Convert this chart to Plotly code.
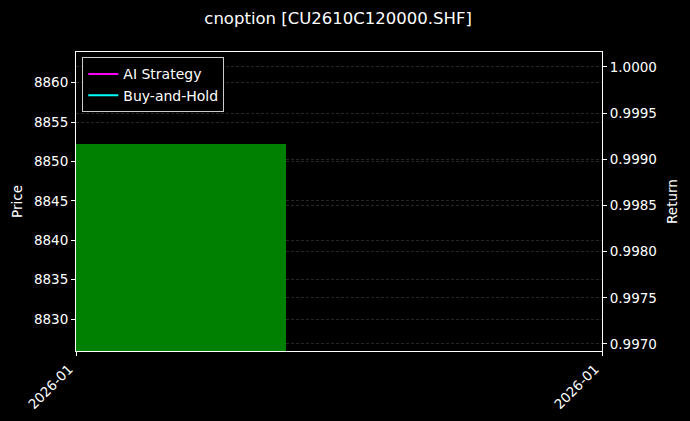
import pandas as pd
import plotly.graph_objects as go

# data
dates = ["2026-01-01"]
close_price = [8852.2]
ai_strategy = [1.0]
buy_hold = [1.0]
tick_labels = ["2026-01", "2026-01"]

d0 = pd.Timestamp(dates[0])
day_ms = 86400000
x_left = d0 - pd.Timedelta(days=0.4)
x_right = d0 + pd.Timedelta(days=1.6)

font = "DejaVu Sans"
grid = "rgba(255,255,255,0.15)"

fig = go.Figure()

# price bar (green candle body)
fig.add_trace(go.Bar(
    x=dates,
    y=close_price,
    width=[0.8 * day_ms],
    marker_color="#008000",
    marker_line_width=0,
    showlegend=False,
    yaxis="y",
))

fig.add_trace(go.Scatter(
    x=dates, y=ai_strategy, mode="lines", name="AI Strategy",
    line=dict(color="#ff00ff", width=2), yaxis="y2",
))
fig.add_trace(go.Scatter(
    x=dates, y=buy_hold, mode="lines", name="Buy-and-Hold",
    line=dict(color="#00ffff", width=2), yaxis="y2",
))

fig.update_layout(
    width=690, height=421,
    margin=dict(l=76, r=88, t=52, b=70),
    paper_bgcolor="black",
    plot_bgcolor="black",
    font=dict(family=font, color="white", size=13.5),
    title=dict(text="cnoption [CU2610C120000.SHF]", x=0.49, xanchor="center",
               yref="container", y=1 - 18 / 421, yanchor="middle",
               pad=dict(t=0, b=0), font=dict(size=16.5, color="white")),
    bargap=0,
    xaxis=dict(
        type="date",
        range=[x_left, x_right],
        tickvals=[x_left, x_right],
        ticktext=tick_labels,
        tickangle=-45,
        ticklabelshift=-7,
        ticks="outside", ticklen=4, tickcolor="white",
        showgrid=False, zeroline=False, automargin=False,
        showline=True, linecolor="white", linewidth=1, mirror=True,
    ),
    yaxis=dict(
        title=dict(text="Price", standoff=8, font=dict(size=13.5)),
        range=[8825.95, 8863.9],
        dtick=5, tick0=8830,
        ticks="outside", ticklen=4, tickcolor="white",
        showgrid=True, gridcolor=grid, gridwidth=0.5, griddash="3px,2px",
        zeroline=False, automargin=False,
        showline=True, linecolor="white", linewidth=1,
    ),
    yaxis2=dict(
        title=dict(text="Return", standoff=11, font=dict(size=13.5)),
        overlaying="y", side="right",
        range=[0.996924, 1.000162],
        dtick=0.0005, tick0=0.997, tickformat=".4f",
        ticks="outside", ticklen=4, tickcolor="white",
        showgrid=True, gridcolor=grid, gridwidth=0.5, griddash="3px,2px",
        zeroline=False, automargin=False,
        showline=True, linecolor="white", linewidth=1,
    ),
    legend=dict(
        x=0.012, y=0.982, xanchor="left", yanchor="top",
        bgcolor="black", bordercolor="#cccccc", borderwidth=1,
        font=dict(size=14, color="white"),
        tracegroupgap=0,
    ),
)

fig.write_html("out.html", config={"displayModeBar": False},
               post_script="document.body.style.margin='0';")
